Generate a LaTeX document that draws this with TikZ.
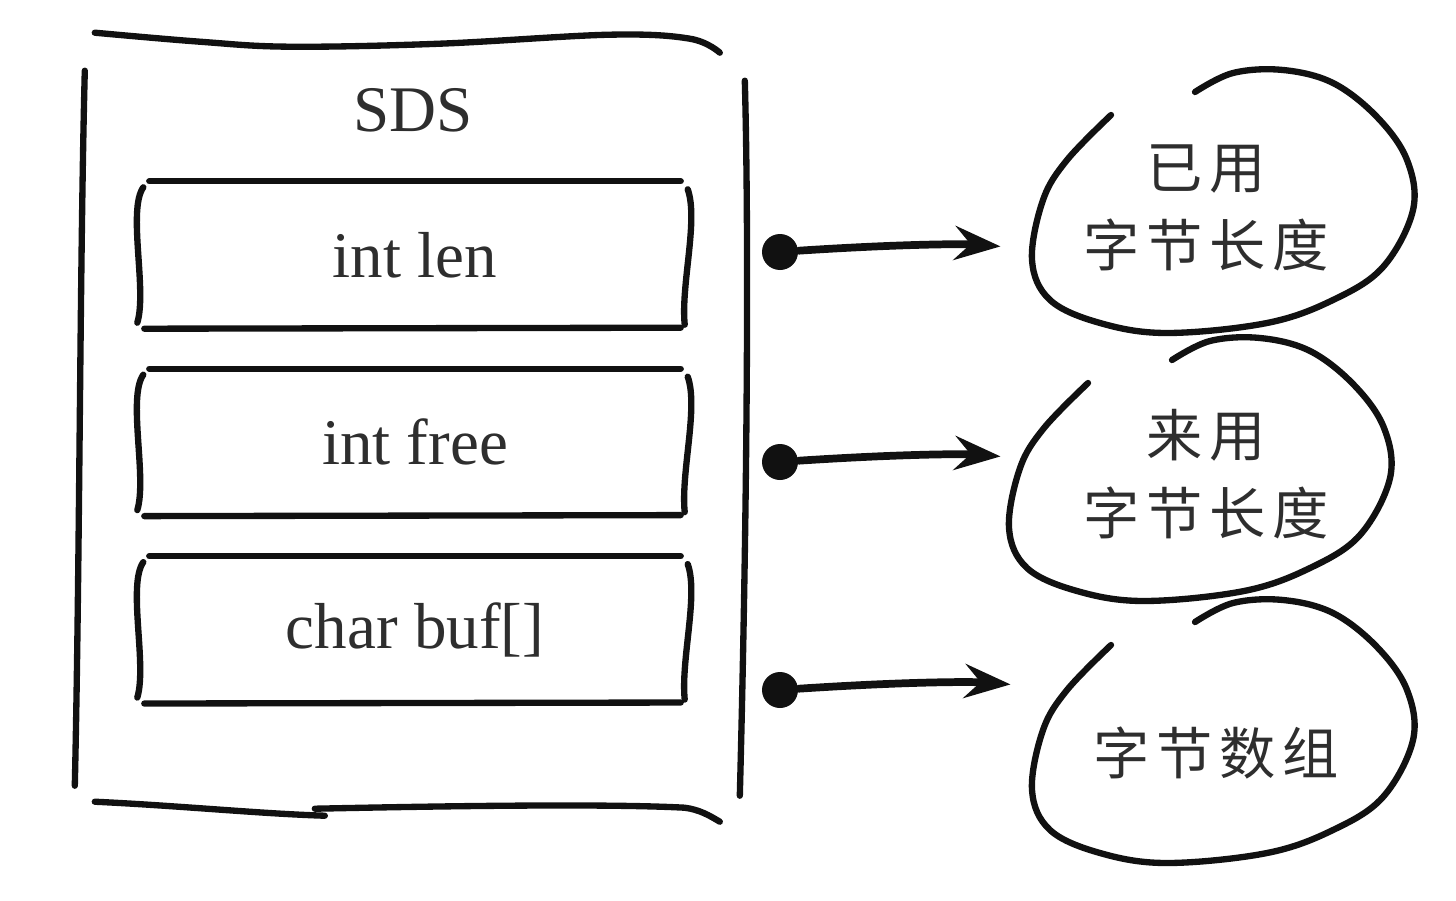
\documentclass[tikz,border=0pt]{standalone}
\usepackage{fontspec}
\setmainfont{Liberation Serif}
\newfontfamily\cjk[LetterSpace=12]{Noto Sans CJK SC}
\usepackage{tikz}
\usetikzlibrary{arrows.meta,positioning,calc}
\definecolor{ink}{HTML}{111111}
\definecolor{lead}{HTML}{2E2E2E}
\tikzset{
  >={Stealth[length=4.6mm,width=3.4mm,inset=1.6mm]},
  pen/.style={draw=ink,line width=1.8pt,line cap=round,line join=round},
  link/.style={->,pen,line width=2.2pt,shorten >=7.5mm},
  dot/.style={circle,fill=ink,minimum size=3.6mm,inner sep=0pt},
  frame/.style={minimum width=6.65cm,minimum height=7.8cm,inner sep=0pt},
  field/.style={minimum width=5.5cm,minimum height=1.46cm,inner sep=0pt,
    font=\fontsize{18.5}{22}\selectfont,text=lead},
  title/.style={inner sep=0pt,font=\fontsize{18.5}{22}\selectfont,text=lead},
  blobtext/.style={text width=2.6cm,align=center,inner sep=0pt,
    font=\cjk\fontsize{16}{22}\selectfont,text=lead},
  blobshape/.pic={
    \draw[pen] plot[smooth,tension=0.6] coordinates {(-1.11,0.86) (-1.55,0.41)
      (-1.79,0.01) (-1.90,-0.59) (-1.72,-0.99) (-1.22,-1.22) (-0.55,-1.32)
      (0.45,-1.22) (1.11,-0.99) (1.61,-0.66) (1.91,-0.09) (1.85,0.41)
      (1.55,0.84) (1.11,1.18) (0.61,1.31) (0.11,1.28) (-0.27,1.09)};
  }
}
% hand drawn sides round a field
\newcommand\sketchbox[1]{%
  \draw[pen] ($(#1.north west)+(0.1,0)$) -- ($(#1.north east)+(-0.1,0)$);
  \draw[pen] ($(#1.south west)+(0.05,0)$) -- ($(#1.south east)+(-0.1,0.01)$);
  \draw[pen] ($(#1.north west)+(0.04,-0.06)$) .. controls ($(#1.west)+(-0.12,0.45)$)
    and ($(#1.west)+(0.08,-0.35)$) .. ($(#1.south west)+(-0.02,0.06)$);
  \draw[pen] ($(#1.north east)+(-0.03,-0.08)$) .. controls ($(#1.east)+(0.08,0.35)$)
    and ($(#1.east)+(-0.1,-0.3)$) .. ($(#1.south east)+(-0.06,0.04)$);
}

\begin{document}
\begin{tikzpicture}[node distance=4mm]
  \fill[white] (0,0) rectangle (14.56,9);
  \useasboundingbox (0,0) rectangle (14.56,9);

  % the SDS struct
  \node[frame] (sds) at (4.13,4.75) {};
  \node[title,below=5.3mm of sds.north] (name) {SDS};
  \begin{scope}[shift={(sds.south west)}]
    \draw[pen] plot[smooth,tension=0.6] coordinates {(0.15,7.83) (1.2,7.74) (2.1,7.69)
      (3.6,7.72) (5.3,7.81) (6.1,7.77) (6.40,7.63)};
    \draw[pen] (0.05,7.45) .. controls (0.0,5.5) and (0.0,2.5) .. (-0.05,0.30);
    \draw[pen] (6.65,7.35) .. controls (6.7,5.5) and (6.66,2.5) .. (6.60,0.20);
    \draw[pen] (0.15,0.14) .. controls (1.0,0.1) and (1.8,0.02) .. (2.45,0.0);
    \draw[pen] (2.35,0.07) .. controls (3.8,0.1) and (5.3,0.12) .. (6.05,0.08)
      .. controls (6.2,0.06) and (6.3,0.0) .. (6.40,-0.06);
  \end{scope}

  \node[field] (len) at (4.15,6.45) {int len};
  \node[field,below=of len] (free) {int free};
  \node[field,below=of free] (buf) {char buf[]};
  \sketchbox{len} \sketchbox{free} \sketchbox{buf}

  % what each field holds
  \pic at (12.22,6.99) {blobshape};
  \pic at (11.99,4.31) {blobshape};
  \pic at (12.22,1.69) {blobshape};
  \node[blobtext] (used) at (12.06,6.92) {已用\\字节长度};
  \node[blobtext] (unused) at (12.06,4.26) {来用\\字节长度};
  \node[blobtext] (bytes) at (12.16,1.47) {字节数组};

  \node[dot] (d1) at (7.80,6.48) {};
  \node[dot] (d2) at (7.80,4.38) {};
  \node[dot] (d3) at (7.80,2.10) {};
  \draw[link] (d1) to[bend left=4] (d1 -| used.west);
  \draw[link] (d2) to[bend left=4] (d2 -| unused.west);
  \draw[link] (d3) to[bend left=4] (d3 -| bytes.west);
\end{tikzpicture}
\end{document}
